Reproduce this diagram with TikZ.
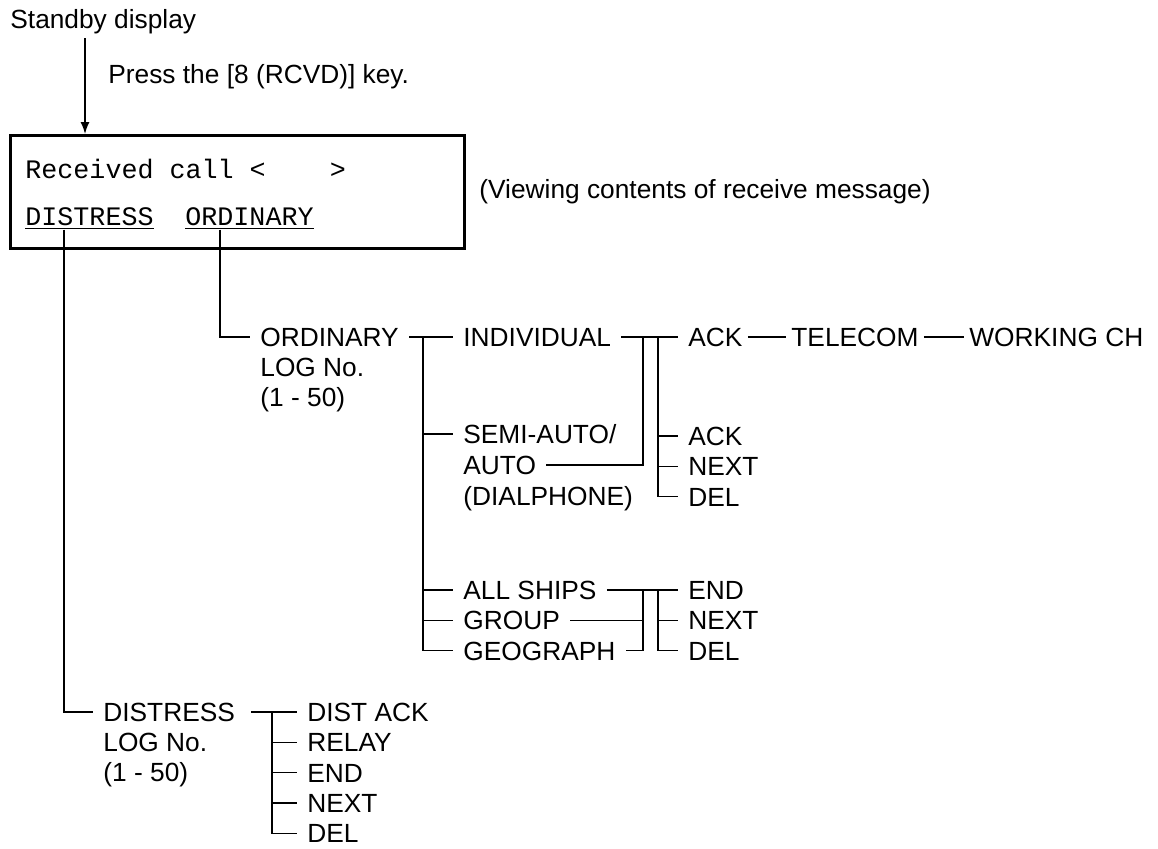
\documentclass[tikz,border=0pt]{standalone}
\usepackage{fontspec}
\setmainfont{Liberation Sans}
\setmonofont{Liberation Mono}
\usepackage{tikz}
\usetikzlibrary{positioning,arrows.meta}

\begin{document}
\begin{tikzpicture}[
    x=0.5pt, y=-0.5pt,
    item/.style={anchor=west, inner xsep=5pt, inner ysep=0pt, text height=9.5pt, text depth=0pt, font=\fontsize{13.15}{15}\selectfont},
    under/.style={below=5.5pt of #1.south west, anchor=north west},
    closeunder/.style={below=5.25pt of #1.south west, anchor=north west},
    lognote/.style={align=left, inner xsep=5pt, inner ysep=0pt, font=\fontsize{13.15}{15}\selectfont},
    plain/.style={anchor=base west, inner sep=0pt, font=\fontsize{13.15}{15}\selectfont},
    mono/.style={anchor=base west, inner sep=0pt, font=\fontsize{13.35}{15}\ttfamily},
    dispbox/.style={rectangle, draw, line width=1.5pt, minimum width=227pt, minimum height=56.5pt, anchor=north west},
    link/.style={line width=0.7pt},
    arrow/.style={-{Latex[length=6pt,width=4.5pt]}, line width=0.7pt}
]
    \useasboundingbox (0,0) rectangle (1158,848);

    % Standby and key
    \node[plain, inner ysep=2.25pt] (standby) at (10,28) {Standby display};
    \node[plain] (presskey) at (108,83) {Press the [8 (RCVD)] key.};
    \coordinate (drop) at (85,0);

    % Display screen
    \node[dispbox] (disp) at (9,134) {};
    \node[mono] (rcvd) at (25,178) {Received call <\ \ \ \ >};
    \node[mono] (dissel) at (25,225) {\underline{DISTRESS}};
    \node[mono] (ordsel) at (185,225) {\underline{ORDINARY}};
    \node[plain] (viewing) at (479,198) {(Viewing contents of receive message)};

    % Ordinary log
    \node[item] (ordlog) at (250,337) {ORDINARY};
    \node[lognote, under=ordlog] (ordlogno) {LOG No.\\(1 - 50)};
    \node[item] (indiv) at (453,337) {INDIVIDUAL};
    \node[item] (semi) at (453,434) {SEMI-AUTO/};
    \node[item, under=semi] (auto) {AUTO};
    \node[item, under=auto] (dialphone) {(DIALPHONE)};
    \node[item] (allships) at (453,590) {ALL SHIPS};
    \node[item, closeunder=allships] (group) {GROUP};
    \node[item, closeunder=group] (geograph) {GEOGRAPH};

    % Replies
    \node[item] (ackA) at (678,337) {ACK};
    \node[item] (telecom) at (781,337) {TELECOM};
    \node[item] (workch) at (959,337) {WORKING CH};
    \node[item] (ackB) at (678,436) {ACK};
    \node[item, closeunder=ackB] (nextA) {NEXT};
    \node[item, closeunder=nextA] (delA) {DEL};
    \node[item] (endA) at (678,590) {END};
    \node[item, closeunder=endA] (nextB) {NEXT};
    \node[item, closeunder=nextB] (delB) {DEL};

    % Distress log
    \node[item] (distlog) at (93,712) {DISTRESS};
    \node[lognote, under=distlog] (distlogno) {LOG No.\\(1 - 50)};
    \node[item] (distack) at (297,712) {DIST ACK};
    \node[item, closeunder=distack] (relay) {RELAY};
    \node[item, closeunder=relay] (endC) {END};
    \node[item, closeunder=endC] (nextC) {NEXT};
    \node[item, closeunder=nextC] (delC) {DEL};

    % Buses
    \coordinate (obus) at (423,0);
    \coordinate (busA) at (643,0);
    \coordinate (busB) at (658,0);
    \coordinate (dbus) at (272,0);

    % Arrows
    \draw[arrow] (standby.south -| drop) -- (disp.north -| drop);
    \draw[link] ([xshift=19.5pt]dissel.south west) |- (distlog.west);
    \draw[link] ([xshift=17.5pt]ordsel.south west) |- (ordlog.west);
    \draw[link] (ordlog.east) -- (indiv.west);
    \draw[link] (ordlog.east -| obus) |- (geograph.west);
    \foreach \n in {semi, allships, group}
        \draw[link] (obus |- \n.west) -- (\n.west);
    \draw[link] (indiv.east) -- (ackA.west);
    \draw[link, shorten <=-2.5pt, shorten >=-2.5pt] (ackA.east) -- (telecom.west);
    \draw[link, shorten <=-2.5pt, shorten >=-2.5pt] (telecom.east) -- (workch.west);
    \draw[link] (indiv.east -| busA) |- (auto.east);
    \draw[link] (indiv.east -| busB) |- (delA.west);
    \foreach \n in {ackB, nextA}
        \draw[link] (busB |- \n.west) -- (\n.west);
    \draw[link] (allships.east) -- (endA.west);
    \draw[link] (allships.east -| busA) |- (geograph.east);
    \draw[link] (busA |- group.east) -- (group.east);
    \draw[link] (allships.east -| busB) |- (delB.west);
    \draw[link] (busB |- nextB.west) -- (nextB.west);
    \draw[link, shorten <=3pt] (distlog.east) -- (distack.west);
    \draw[link] (distlog.east -| dbus) |- (delC.west);
    \foreach \n in {relay, endC, nextC}
        \draw[link] (dbus |- \n.west) -- (\n.west);
\end{tikzpicture}
\end{document}
